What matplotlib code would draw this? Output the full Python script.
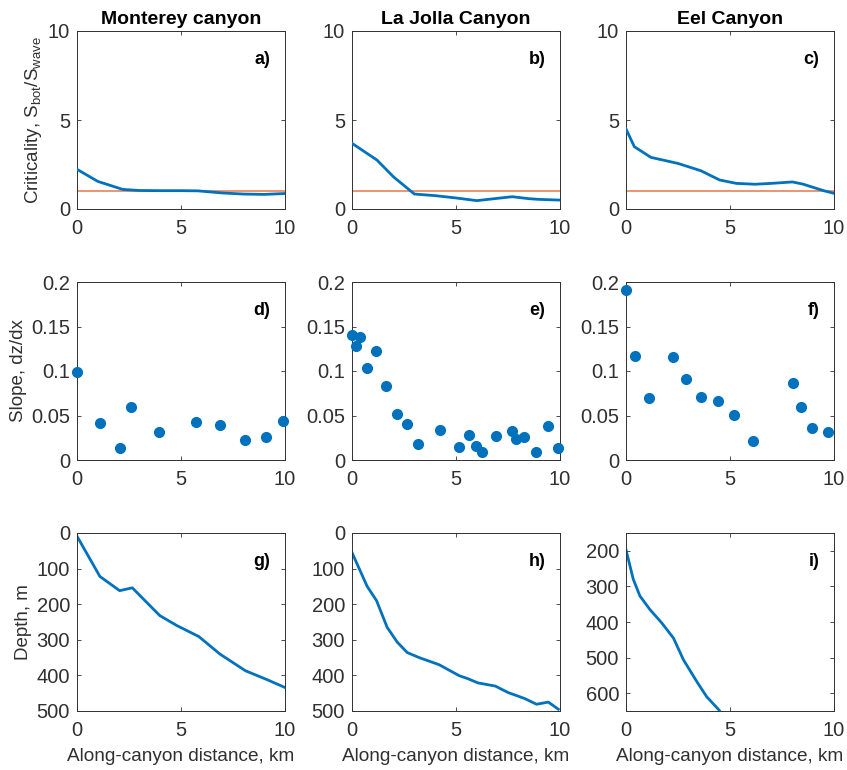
import numpy as np
import matplotlib
matplotlib.use('Agg')
import matplotlib.pyplot as plt

plt.rcParams['font.family'] = ['Liberation Sans', 'DejaVu Sans']
plt.rcParams['mathtext.fontset'] = 'custom'
plt.rcParams['mathtext.rm'] = 'Liberation Sans'

titles = ['Monterey canyon', 'La Jolla Canyon', 'Eel Canyon']

# criticality, S_bot / S_wave
crit_x = [
    [0, 1.0, 2.2, 3.0, 4.0, 5.0, 5.8, 7.0, 8.0, 9.0, 10.0],
    [0, 1.2, 2.0, 3.0, 4.0, 5.0, 6.0, 7.0, 7.7, 8.5, 9.0, 10.0],
    [0, 0.4, 1.2, 2.5, 3.6, 4.5, 5.3, 6.2, 7.0, 8.0, 8.5, 9.5, 10.0],
]
crit_y = [
    [2.23, 1.55, 1.1, 1.04, 1.03, 1.03, 1.02, 0.9, 0.84, 0.82, 0.87],
    [3.69, 2.75, 1.8, 0.84, 0.75, 0.62, 0.47, 0.6, 0.69, 0.58, 0.54, 0.5],
    [4.5, 3.5, 2.9, 2.56, 2.15, 1.63, 1.44, 1.39, 1.44, 1.52, 1.4, 1.03, 0.88],
]
critical_level = 1.0

# bottom slope, dz/dx
slope_x = [
    [0, 1.12, 2.07, 2.62, 3.96, 5.7, 6.89, 8.1, 9.1, 9.9],
    [0, 0.18, 0.37, 0.71, 1.15, 1.65, 2.18, 2.66, 3.15, 4.21, 5.15, 5.63,
     5.95, 6.27, 6.94, 7.68, 7.9, 8.26, 8.85, 9.44, 9.92],
    [0, 0.45, 1.12, 2.24, 2.87, 3.59, 4.41, 5.21, 6.09, 8.04, 8.41, 8.96, 9.71],
]
slope_y = [
    [0.099, 0.042, 0.014, 0.059, 0.032, 0.043, 0.039, 0.023, 0.026, 0.044],
    [0.141, 0.128, 0.138, 0.103, 0.122, 0.083, 0.052, 0.041, 0.018, 0.034, 0.015, 0.028,
     0.016, 0.009, 0.027, 0.033, 0.024, 0.026, 0.009, 0.038, 0.013],
    [0.191, 0.117, 0.070, 0.116, 0.091, 0.071, 0.066, 0.051, 0.021, 0.087, 0.059, 0.036, 0.032],
]

# thalweg depth, m
depth_x = [
    [0, 1.1, 2.05, 2.66, 3.98, 4.8, 5.86, 6.87, 8.1, 9.1, 10.0],
    [0, 0.73, 1.18, 1.69, 2.18, 2.66, 3.23, 4.19, 5.16, 5.56, 6.05, 6.89, 7.5, 8.3, 8.87, 9.44, 9.92],
    [0, 0.35, 0.67, 1.15, 1.71, 2.28, 2.76, 3.4, 3.88, 4.47, 4.8],
]
depth_y = [
    [9, 122, 162, 154, 232, 260, 291, 340, 387, 411, 434],
    [55, 150, 190, 265, 307, 336, 350, 370, 401, 409, 421, 430, 448, 465, 481, 475, 495],
    [197, 280, 327, 365, 402, 445, 506, 567, 610, 647, 680],
]
depth_lims = [(500, 0), (500, 0), (650, 150)]

blue = '#0072BD'
orange = '#EC8B66'
axcol = '#303030'
labels = 'abcdefghi'

fig = plt.figure(figsize=(8.47, 7.7), dpi=100)
lefts = [77, 352, 626]
tops = [31, 282, 533]
W, H = 208, 178

for r in range(3):
    for c in range(3):
        ax = fig.add_axes([lefts[c] / 847, 1 - (tops[r] + H) / 770, W / 847, H / 770])
        if r == 0:
            ax.plot(crit_x[c], crit_y[c], color=blue, lw=2.0, zorder=3)
            ax.axhline(critical_level, color=orange, lw=1.3, zorder=2)
            ax.set_ylim(0, 10)
            ax.set_yticks([0, 5, 10])
            ax.set_title(titles[c], fontsize=14, fontweight='bold', pad=5)
            if c == 0:
                ax.set_ylabel(r'Criticality, S$_{\rm bot}$/S$_{\rm wave}$', fontsize=13.5,
                              color=axcol, labelpad=3)
        elif r == 1:
            ax.plot(slope_x[c], slope_y[c], 'o', color=blue, ms=7, clip_on=False, zorder=3)
            ax.set_ylim(0, 0.2)
            ax.set_yticks([0, 0.05, 0.1, 0.15, 0.2])
            ax.set_yticklabels(['0', '0.05', '0.1', '0.15', '0.2'])
            if c == 0:
                ax.set_ylabel('Slope, dz/dx', fontsize=13.5, color=axcol, labelpad=3)
        else:
            ax.plot(depth_x[c], depth_y[c], color=blue, lw=2.0)
            ax.set_ylim(*depth_lims[c])
            if c == 2:
                ax.set_yticks([200, 300, 400, 500, 600])
            else:
                ax.set_yticks([0, 100, 200, 300, 400, 500])
            ax.set_xlabel('Along-canyon distance, km', fontsize=13.7, color=axcol, labelpad=6)
            if c == 0:
                ax.set_ylabel('Depth, m', fontsize=13.5, color=axcol, labelpad=3)
        ax.set_xlim(0, 10)
        ax.set_xticks([0, 5, 10])
        ax.tick_params(direction='in', length=3, width=0.6, top=True, right=True,
                       labelsize=14.5, colors=axcol, pad=5)
        ax.tick_params(axis='x', pad=7)
        for s in ax.spines.values():
            s.set_color(axcol)
            s.set_linewidth(0.7)
        ax.text(0.93, 0.84, labels[3 * r + c] + ')', transform=ax.transAxes,
                ha='right', va='center', fontsize=13, fontweight='bold')

fig.savefig('out.png', dpi=100)
